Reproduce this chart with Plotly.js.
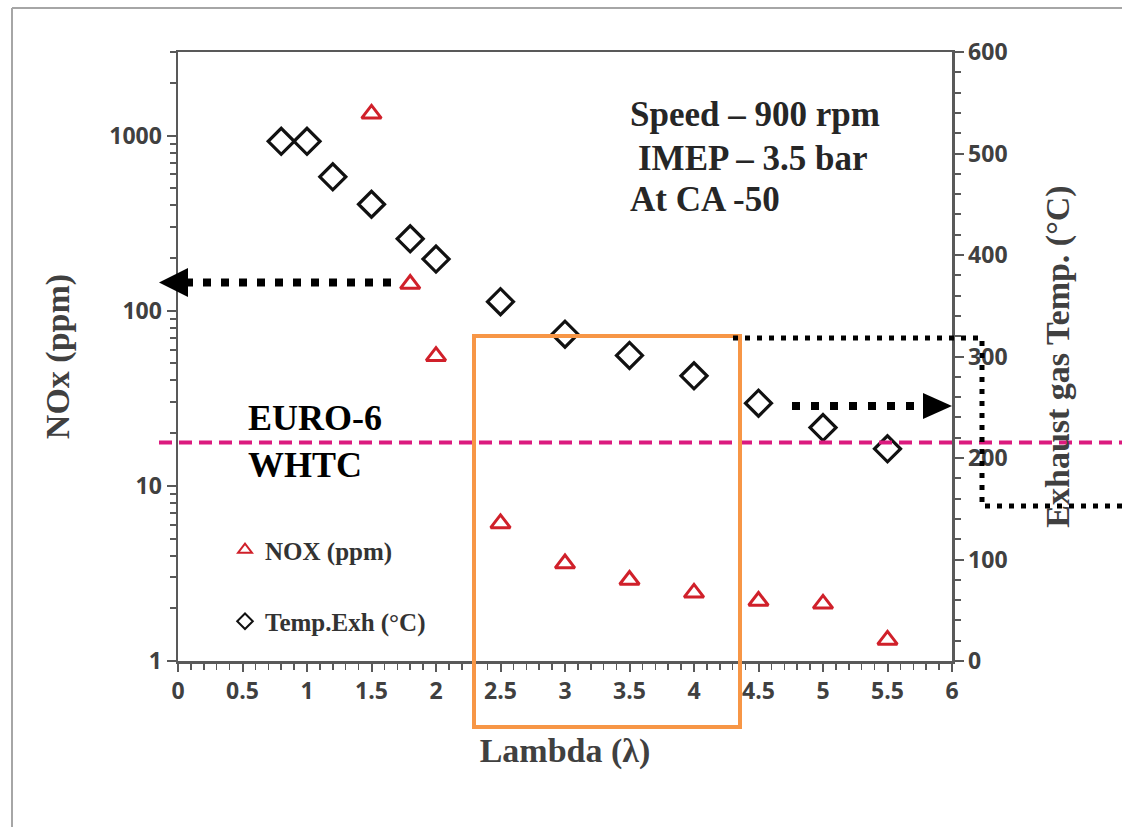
<!DOCTYPE html>
<html>
<head>
<meta charset="utf-8">
<script src="https://cdn.plot.ly/plotly-3.0.1.min.js"></script>
<style>html,body{margin:0;padding:0;background:#fff;overflow:hidden;}#chart{width:1122px;height:827px;}</style>
</head>
<body>
<div id="chart"></div>
<script>
// ---- data ----
const lambdaNox = [1.5, 1.8, 2.0, 2.5, 3.0, 3.5, 4.0, 4.5, 5.0, 5.5];
const noxPpm    = [1330, 142, 55, 6.1, 3.6, 2.9, 2.45, 2.2, 2.12, 1.32];
const lambdaTemp = [0.8, 1.0, 1.2, 1.5, 1.8, 2.0, 2.5, 3.0, 3.5, 4.0, 4.5, 5.0, 5.5];
const tempExh    = [512, 512, 477, 450, 416, 396, 354, 322, 301, 281, 254, 230, 209];
const euro6Limit = 17.7;           // ppm, EURO-6 WHTC line
const xTickVals = [0, 0.5, 1, 1.5, 2, 2.5, 3, 3.5, 4, 4.5, 5, 5.5, 6];
const yTickVals = [1, 10, 100, 1000];
const y2TickVals = [0, 100, 200, 300, 400, 500, 600];
const conditionLines = ["Speed – 900 rpm", "IMEP – 3.5 bar", "At CA -50"];

const axisCol = '#595959';
const tickFont = {family: 'Open Sans, sans-serif', size: 23, color: '#404040', weight: 700};
const serif = 'Liberation Serif, Times New Roman, serif';
const titleFont = {family: serif, size: 34, color: '#404040', weight: 700};

const traces = [
  {
    x: lambdaNox, y: noxPpm, type: 'scatter', mode: 'markers', name: 'NOX (ppm)',
    yaxis: 'y', legendgroup: 'a',
    marker: {symbol: 'triangle-up-open', size: 17, color: '#D0202A', line: {width: 3, color: '#D0202A'}}
  },
  {
    x: lambdaTemp, y: tempExh, type: 'scatter', mode: 'markers', name: 'Temp.Exh (°C)',
    yaxis: 'y2', legendgroup: 'b',
    marker: {symbol: 'diamond-open', size: 20, color: '#111', line: {width: 3.2, color: '#111'}}
  }
];

const toPaperX = px => (px - 178) / 774;
const toPaperY = py => (661 - py) / 609;
const toDataX = px => (px - 178) / 129;

const shapes = [
  // figure frame (top and left)
  {type: 'line', xref: 'paper', yref: 'paper', x0: toPaperX(12), x1: toPaperX(1122), y0: toPaperY(8), y1: toPaperY(8), line: {color: '#A6A6A6', width: 2}},
  {type: 'line', xref: 'paper', yref: 'paper', x0: toPaperX(12), x1: toPaperX(12), y0: toPaperY(8), y1: toPaperY(827), line: {color: '#A6A6A6', width: 2}},
  // EURO-6 limit
  {type: 'line', xref: 'paper', yref: 'y', x0: toPaperX(159), x1: toPaperX(1122), y0: euro6Limit, y1: euro6Limit, line: {color: '#DB1A7E', width: 4, dash: '13px,7px'}},
  // orange highlight box
  {type: 'rect', xref: 'x', yref: 'paper', x0: toDataX(474), x1: toDataX(740), y0: toPaperY(727), y1: toPaperY(336), line: {color: '#F79646', width: 4}, fillcolor: 'rgba(0,0,0,0)'},
  // left arrow
  {type: 'line', xref: 'paper', yref: 'paper', x0: toPaperX(391), x1: toPaperX(187), y0: toPaperY(282.5), y1: toPaperY(282.5), line: {color: '#000', width: 8, dash: '8px,10px'}},
  {type: 'path', xref: 'paper', yref: 'paper', path: `M ${toPaperX(159)},${toPaperY(282.5)} L ${toPaperX(188)},${toPaperY(268)} L ${toPaperX(188)},${toPaperY(297)} Z`, fillcolor: '#000', line: {width: 0}},
  // right arrow
  {type: 'line', xref: 'paper', yref: 'paper', x0: toPaperX(792), x1: toPaperX(922), y0: toPaperY(406), y1: toPaperY(406), line: {color: '#000', width: 8, dash: '8px,11px'}},
  {type: 'path', xref: 'paper', yref: 'paper', path: `M ${toPaperX(952)},${toPaperY(406)} L ${toPaperX(923)},${toPaperY(393)} L ${toPaperX(923)},${toPaperY(419)} Z`, fillcolor: '#000', line: {width: 0}},
  // dotted bracket on right
  {type: 'path', xref: 'paper', yref: 'paper', path: `M ${toPaperX(733)},${toPaperY(338)} L ${toPaperX(982)},${toPaperY(338)} L ${toPaperX(982)},${toPaperY(506)} L ${toPaperX(1122)},${toPaperY(506)}`, line: {color: '#000', width: 5, dash: '5px,7px'}}
];

const annotations = [
  {xref: 'paper', yref: 'paper', x: toPaperX(628), y: toPaperY(114), xanchor: 'left', yanchor: 'middle', showarrow: false, text: conditionLines[0], font: {family: serif, size: 35, color: '#262626', weight: 700}},
  {xref: 'paper', yref: 'paper', x: toPaperX(636), y: toPaperY(158), xanchor: 'left', yanchor: 'middle', showarrow: false, text: conditionLines[1], font: {family: serif, size: 35, color: '#262626', weight: 700}},
  {xref: 'paper', yref: 'paper', x: toPaperX(628), y: toPaperY(199), xanchor: 'left', yanchor: 'middle', showarrow: false, text: conditionLines[2], font: {family: serif, size: 35, color: '#262626', weight: 700}},
  {xref: 'paper', yref: 'paper', x: toPaperX(246), y: toPaperY(441.5), xanchor: 'left', yanchor: 'middle', align: 'left', showarrow: false, text: 'EURO-6<br>WHTC', font: {family: serif, size: 36, color: '#000', weight: 700}}
];

const layout = {
  width: 1122, height: 827,
  margin: {l: 178, r: 170, t: 52, b: 166, pad: 0},
  paper_bgcolor: '#fff', plot_bgcolor: '#fff',
  showlegend: true,
  legend: {
    x: toPaperX(225), y: toPaperY(527), xanchor: 'left', yanchor: 'top',
    bgcolor: 'rgba(0,0,0,0)', traceorder: 'grouped', tracegroupgap: 36, itemsizing: 'constant',
    font: {family: serif, size: 25, color: '#333', weight: 700}
  },
  xaxis: {
    range: [0, 6], tickvals: xTickVals, ticktext: xTickVals.map(String),
    showgrid: false, zeroline: false, showline: true, mirror: true, linecolor: axisCol, linewidth: 2.5,
    ticks: 'outside', ticklen: 8, tickwidth: 2, tickcolor: axisCol,
    minor: {dtick: 0.1, tick0: 0, ticks: 'outside', ticklen: 6, tickwidth: 1.5, tickcolor: axisCol, showgrid: false},
    tickfont: tickFont,
    title: {text: 'Lambda (λ)', font: titleFont, standoff: 33}
  },
  yaxis: {
    type: 'log', range: [0, Math.log10(3000)], tickvals: yTickVals, ticktext: yTickVals.map(String),
    showgrid: false, zeroline: false, showline: true, linecolor: axisCol, linewidth: 2.5,
    ticks: 'outside', ticklen: 9, tickwidth: 2, tickcolor: axisCol,
    minor: {dtick: 'D1', ticks: 'outside', ticklen: 6, tickwidth: 2, tickcolor: axisCol, showgrid: false},
    tickfont: tickFont,
    title: {text: 'NOx (ppm)', font: titleFont, standoff: 30}
  },
  yaxis2: {
    overlaying: 'y', side: 'right', range: [0, 600], tickvals: y2TickVals, ticktext: y2TickVals.map(String),
    showgrid: false, zeroline: false, showline: true, linecolor: axisCol, linewidth: 2.5,
    ticks: 'outside', ticklen: 9, tickwidth: 2, tickcolor: axisCol,
    minor: {dtick: 20, tick0: 0, ticks: 'outside', ticklen: 6, tickwidth: 2, tickcolor: axisCol, showgrid: false},
    tickfont: tickFont,
    title: {text: 'Exhaust gas Temp. (°C)', font: titleFont, standoff: 39}
  },
  shapes: shapes,
  annotations: annotations
};

Plotly.newPlot('chart', traces, layout, {displayModeBar: false, staticPlot: true});
</script>
</body>
</html>
